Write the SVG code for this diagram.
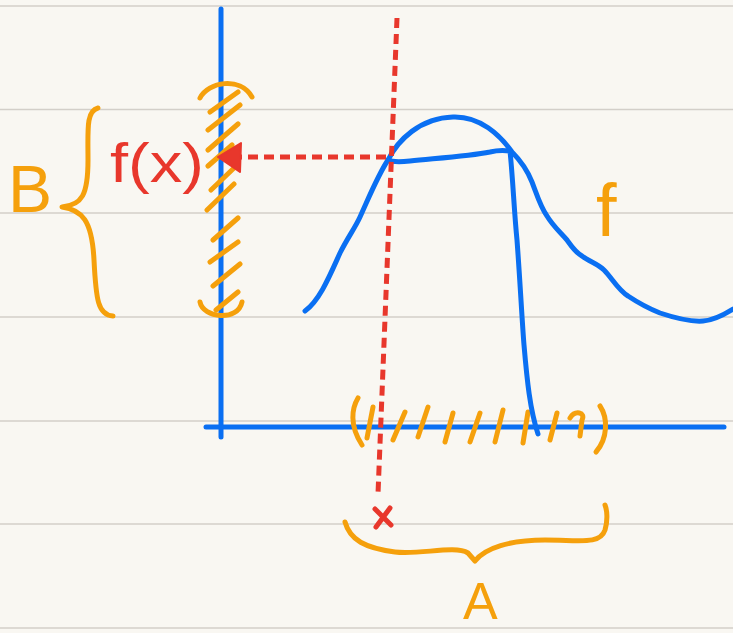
<svg xmlns="http://www.w3.org/2000/svg" width="733" height="633" viewBox="0 0 733 633">
<style>
.rule{stroke:#d3cfc9;stroke-width:1.6}
.blue{fill:none;stroke:#0a6ff2;stroke-width:5;stroke-linecap:round;stroke-linejoin:round}
.org{fill:none;stroke:#f5a00c;stroke-width:5;stroke-linecap:round;stroke-linejoin:round}
.red{fill:none;stroke:#e8372c;stroke-width:5;stroke-dasharray:10 6}
.otxt{fill:#f5a00c;font-family:"Liberation Sans",sans-serif}
.rtxt{fill:#e8372c;font-family:"Liberation Sans",sans-serif}
</style>
<rect width="733" height="633" fill="#f9f7f2"/>
<g id="rules">
<line class="rule" x1="0" y1="6" x2="733" y2="6"/>
<line class="rule" x1="0" y1="109.5" x2="733" y2="109.5"/>
<line class="rule" x1="0" y1="213" x2="733" y2="213"/>
<line class="rule" x1="0" y1="317" x2="733" y2="317"/>
<line class="rule" x1="0" y1="421" x2="733" y2="421"/>
<line class="rule" x1="0" y1="524" x2="733" y2="524"/>
<line class="rule" x1="0" y1="628" x2="733" y2="628"/>
</g>
<g id="axes">
<line class="blue" x1="221" y1="9" x2="221" y2="437"/>
<line class="blue" x1="206" y1="427" x2="724" y2="427"/>
</g>
<g id="set-B">
<path class="org" d="M200,98 C208,82 240,76 252,97"/>
<path class="org" d="M200,302 C203,318 238,322 242,302"/>
<path class="org" d="M210,112 L238,92 M208,130 L240,105 M208,150 L238,124 M208,166 L232,145 M211,190 L234,168 M207,210 L234,184 M213,240 L238,218 M210,262 L238,242 M213,286 L240,264 M216,310 L238,292"/>
<path class="org" d="M98,108 C86,111 88,130 88,160 C88,195 82,205 62,207 C82,210 92,220 94,260 C96,300 98,315 113,316"/>
<text class="otxt" x="8" y="212" font-size="66">B</text>
</g>
<g id="set-A">
<path class="org" d="M358,398 C352,408 349,425 362,445"/>
<path class="org" d="M373,407 L367,438 M405,412 L393,440 M428,407 L418,437 M453,413 L445,442 M480,413 L470,442 M503,410 L495,442 M528,412 L523,443 M557,413 L550,440"/>
<path class="org" d="M570,418 C575,410 586,412 582,420 L580,436"/>
<path class="org" d="M600,406 C608,418 608,438 596,452"/>
<path class="org" d="M345,522 C350,540 365,548 395,552 C420,555 455,545 468,553 L475,561 C485,548 510,540 545,540 C580,540 600,545 605,530 C608,520 607,510 605,505"/>
<text class="otxt" x="463" y="619" font-size="52">A</text>
</g>
<g id="function-f">
<path class="blue" d="M305,311 C320,300 330,275 340,253 C348,237 355,228 360,217 C370,195 378,175 388,160 C398,140 420,118 453,117 C480,116 500,135 512,152 C522,162 528,172 532,182 C538,198 541,208 547,216 C553,226 560,232 567,240 C572,247 575,252 582,256 C590,262 598,264 604,270 C612,278 618,290 628,296 C640,304 650,309 660,313 C675,318 690,322 703,321 C715,320 725,314 733,309"/>
<path class="blue" d="M388,160 C392,162 400,162 410,161 C440,158 470,156 490,152 C498,150 503,150 510,151 C513,180 514,210 517,240 C520,280 522,320 524,345 C527,380 530,410 538,434"/>
<text class="otxt" x="596" y="236" font-size="74">f</text>
</g>
<g id="preimage-x">
<line class="red" x1="397" y1="18" x2="378" y2="494"/>
<path d="M375,509 L391,525 M390,508 L376,527" stroke="#e8372c" stroke-width="5" stroke-linecap="round" fill="none"/>
</g>
<g id="connectors">
<line class="red" x1="386" y1="157" x2="240" y2="157"/>
<path d="M218,157 L241,143 L240,172 Z" fill="#e8372c" stroke="#e8372c" stroke-width="2" stroke-linejoin="round"/>
</g>
<g id="label-fx">
<text class="rtxt" x="110" y="182" font-size="56" textLength="94" lengthAdjust="spacingAndGlyphs">f(x)</text>
</g>
</svg>
